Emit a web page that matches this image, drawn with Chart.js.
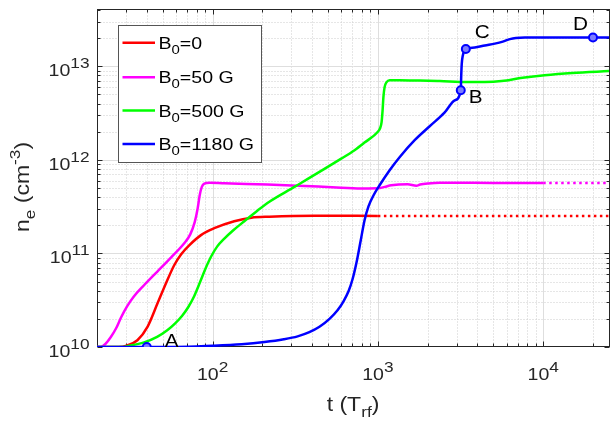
<!DOCTYPE html>
<html>
<head>
<meta charset="utf-8">
<script src="https://cdn.jsdelivr.net/npm/chart.js@4.4.1/dist/chart.umd.min.js"></script>
<style>
  html, body { margin: 0; padding: 0; background: #fff; }
  canvas { display: block; }
</style>
</head>
<body>
<canvas id="neChart" width="616" height="425"></canvas>
<script>
// t in units of T_rf, n_e in cm^-3
const redT = [20, 27, 30.5, 35.1, 40.4, 46.4, 52.2, 58.6, 64.6, 72.2, 85.1, 102.4, 135.3, 171.6, 221, 413, 1000];
const redN = [1e10, 1e10, 1.04e10, 1.18e10, 1.64e10, 2.91e10, 4.77e10, 7.48e10, 9.8e10, 1.22e11, 1.57e11, 1.86e11, 2.21e11, 2.41e11, 2.47e11, 2.53e11, 2.52e11];
const redDotT = [1000, 25000];
const redDotN = [2.52e11, 2.52e11];

const magT = [20, 21.07, 22.4, 24.2, 26.1, 28.0, 30.4, 33.5, 38.5, 46.2, 56.2, 67.4, 73.3, 78.0, 81.3, 83.6, 86.0, 89.1, 96, 117.7, 215, 327, 600, 830, 1000, 1100, 1205, 1514, 1710, 1800, 2010, 2370, 5000, 10000];
const magN = [1e10, 1e10, 1.07e10, 1.27e10, 1.585e10, 2.08e10, 2.72e10, 3.49e10, 4.57e10, 6.37e10, 9.1e10, 1.285e11, 1.6e11, 2.16e11, 3.04e11, 4.19e11, 5.11e11, 5.57e11, 5.7e11, 5.62e11, 5.45e11, 5.3e11, 5.05e11, 4.95e11, 4.97e11, 5.15e11, 5.36e11, 5.5e11, 5.3e11, 5.45e11, 5.6e11, 5.7e11, 5.67e11, 5.65e11];
const magDotT = [10000, 25000];
const magDotN = [5.65e11, 5.65e11];

const greenT = [20, 28, 31.3, 38.5, 46.2, 53.2, 59.4, 65.5, 71.2, 77.4, 84.2, 90.3, 98.2, 106.8, 117.8, 133.5, 155.7, 186.6, 220.6, 312.7, 600, 722.6, 830, 1000, 1031, 1053, 1068, 1080, 1098, 1129, 1178, 1353, 1780, 2367, 3500, 4440, 5600, 7500, 10200, 15000, 25000];
const greenN = [1e10, 1e10, 1.03e10, 1.12e10, 1.285e10, 1.51e10, 1.79e10, 2.16e10, 2.66e10, 3.49e10, 4.98e10, 6.78e10, 9.33e10, 1.19e11, 1.44e11, 1.77e11, 2.21e11, 2.86e11, 3.57e11, 5.14e11, 1.03e12, 1.27e12, 1.53e12, 2.0e12, 2.18e12, 2.53e12, 3.4e12, 4.68e12, 5.99e12, 6.78e12, 7.12e12, 7.12e12, 7.05e12, 6.95e12, 6.8e12, 6.8e12, 6.95e12, 7.55e12, 8.05e12, 8.5e12, 8.9e12];

const blueT = [20, 60, 100, 150, 206, 270, 327, 385, 443.2, 509.6, 570, 619.6, 664.3, 702.5, 743, 785.7, 830.6, 878.4, 941.7, 1024, 1178, 1353, 1669, 2057, 2537, 2916, 3172, 3193, 3215, 3262, 3330, 3404, 3855, 4433, 5097, 5698, 6284, 6831, 7746, 20000, 25000];
const blueN = [1e10, 1e10, 1.03e10, 1.07e10, 1.13e10, 1.21e10, 1.30e10, 1.44e10, 1.644e10, 2.0e10, 2.47e10, 3.08e10, 3.94e10, 5.3e10, 8.05e10, 1.35e11, 2.265e11, 3.2e11, 4.19e11, 5.36e11, 7.76e11, 1.069e12, 1.624e12, 2.29e12, 3.22e12, 4.33e12, 5.56e12, 8.05e12, 1.056e13, 1.30e13, 1.454e13, 1.53e13, 1.592e13, 1.673e13, 1.749e13, 1.837e13, 1.954e13, 2.012e13, 2.037e13, 2.037e13, 2.037e13];

const markerNames = ['A', 'B', 'C', 'D'];
const markerT = [40, 3172, 3404, 20000];
const markerN = [1e10, 5.56e12, 1.53e13, 2.037e13];

const seriesLabels = ['=0', '=50 G', '=500 G', '=1180 G'];
const seriesColors = ['#ff0000', '#ff00ff', '#00ff00', '#0000ff'];

const xTickExps = [2, 3, 4];
const yTickExps = [10, 11, 12, 13];

const FONT = '"Liberation Sans", Arial, Helvetica, sans-serif';
const SX = 1.15; // text in the figure runs a bit wide

function pts(xs, ys) {
  return xs.map((v, i) => ({ x: v, y: ys[i] }));
}

function drawRich(ctx, parts, x, y, align) {
  let w = 0;
  parts.forEach(p => {
    ctx.font = p.size + 'px ' + FONT;
    p.w = ctx.measureText(p.text).width;
    w += p.w;
  });
  let cx = align === 'center' ? -w / 2 : align === 'right' ? -w : 0;
  ctx.save();
  ctx.translate(x, y);
  ctx.scale(SX, 1);
  ctx.textAlign = 'left';
  ctx.textBaseline = 'alphabetic';
  parts.forEach(p => {
    ctx.font = p.size + 'px ' + FONT;
    ctx.fillText(p.text, cx, p.dy || 0);
    cx += p.w;
  });
  ctx.restore();
}

function logValues(min, max) {
  const out = [];
  for (let e = Math.floor(Math.log10(min)); e <= Math.ceil(Math.log10(max)); e++) {
    for (let m = 1; m <= 9; m++) {
      const v = m * Math.pow(10, e);
      if (v >= min * 0.999 && v <= max * 1.001) out.push({ v: v, major: m === 1 });
    }
  }
  return out;
}

// MATLAB-like axes: grid, box, inward ticks, labels and legend
const matlabAxes = {
  id: 'matlabAxes',
  beforeDatasetsDraw(chart) {
    const { ctx, chartArea: a, scales: { x, y } } = chart;
    const L = Math.round(a.left) + 0.5, R = Math.round(a.right) + 0.5;
    const T = Math.round(a.top) - 0.5, B = Math.round(a.bottom) - 0.5;
    const xs = logValues(x.min, x.max), ys = logValues(y.min, y.max);
    ctx.save();
    ctx.lineWidth = 1;

    // minor grid (dotted)
    ctx.strokeStyle = '#cccccc';
    ctx.setLineDash([1, 2]);
    xs.filter(t => !t.major).forEach(t => {
      const px = Math.round(x.getPixelForValue(t.v)) + 0.5;
      if (px <= L + 1 || px >= R - 1) return;
      ctx.beginPath(); ctx.moveTo(px, T); ctx.lineTo(px, B); ctx.stroke();
    });
    ys.filter(t => !t.major).forEach(t => {
      const py = Math.round(y.getPixelForValue(t.v)) + 0.5;
      if (py <= T + 1 || py >= B - 1) return;
      ctx.beginPath(); ctx.moveTo(L, py); ctx.lineTo(R, py); ctx.stroke();
    });

    // major grid
    ctx.setLineDash([]);
    ctx.strokeStyle = '#dedede';
    xs.filter(t => t.major).forEach(t => {
      const px = Math.round(x.getPixelForValue(t.v)) + 0.5;
      if (px <= L + 1 || px >= R - 1) return;
      ctx.beginPath(); ctx.moveTo(px, T); ctx.lineTo(px, B); ctx.stroke();
    });
    ys.filter(t => t.major).forEach(t => {
      const py = Math.round(y.getPixelForValue(t.v)) + 0.5;
      if (py <= T + 1 || py >= B - 1) return;
      ctx.beginPath(); ctx.moveTo(L, py); ctx.lineTo(R, py); ctx.stroke();
    });

    // box and ticks
    ctx.strokeStyle = '#262626';
    ctx.strokeRect(L, T, R - L, B - T);
    ctx.beginPath();
    xs.forEach(t => {
      const px = Math.round(x.getPixelForValue(t.v)) + 0.5;
      const len = t.major ? 5 : 3;
      ctx.moveTo(px, B); ctx.lineTo(px, B - len);
      ctx.moveTo(px, T); ctx.lineTo(px, T + len);
    });
    ys.forEach(t => {
      const py = Math.round(y.getPixelForValue(t.v)) + 0.5;
      const len = t.major ? 5 : 3;
      ctx.moveTo(L, py); ctx.lineTo(L + len, py);
      ctx.moveTo(R, py); ctx.lineTo(R - len, py);
    });
    ctx.stroke();
    ctx.restore();
  },
  afterDatasetsDraw(chart) {
    const { ctx, chartArea: a, scales: { x, y } } = chart;
    ctx.save();

    // tick labels
    ctx.fillStyle = '#262626';
    xTickExps.forEach(e => {
      const px = x.getPixelForValue(Math.pow(10, e));
      drawRich(ctx, [
        { text: '10', size: 17 },
        { text: String(e), size: 15, dy: -8 }
      ], px, 379.5, 'center');
    });
    yTickExps.forEach(e => {
      const py = y.getPixelForValue(Math.pow(10, e));
      drawRich(ctx, [
        { text: '10', size: 17 },
        { text: String(e), size: 15, dy: -8 }
      ], 89.5, py + 10, 'right');
    });

    // axis titles
    drawRich(ctx, [
      { text: 't (T', size: 20 },
      { text: 'rf', size: 15, dy: 6 },
      { text: ')', size: 20 }
    ], (a.left + a.right) / 2, 411, 'center');

    ctx.save();
    ctx.translate(28.5, 187);
    ctx.rotate(-Math.PI / 2);
    drawRich(ctx, [
      { text: 'n', size: 20 },
      { text: 'e', size: 15, dy: 6 },
      { text: ' (cm', size: 20 },
      { text: '-3', size: 15, dy: -9 },
      { text: ')', size: 20 }
    ], 0, 0, 'center');
    ctx.restore();

    // point labels A-D
    const labelOffsets = [[18, 0], [8, 13], [9, -11], [-20, -7]];
    ctx.fillStyle = '#000';
    markerNames.forEach((name, i) => {
      const px = x.getPixelForValue(markerT[i]);
      const py = y.getPixelForValue(markerN[i]);
      drawRich(ctx, [{ text: name, size: 18 }], px + labelOffsets[i][0], py + labelOffsets[i][1], 'left');
    });

    // legend
    const box = { left: 118.5, top: 25.5, width: 143, height: 137 };
    const rowY = [42.7, 77.3, 110.5, 144];
    ctx.fillStyle = '#fff';
    ctx.fillRect(box.left, box.top, box.width, box.height);
    ctx.strokeStyle = '#555';
    ctx.lineWidth = 1;
    ctx.strokeRect(box.left, box.top, box.width, box.height);
    seriesLabels.forEach((lab, i) => {
      ctx.strokeStyle = seriesColors[i];
      ctx.lineWidth = 2.5;
      ctx.beginPath();
      ctx.moveTo(122.5, rowY[i]);
      ctx.lineTo(155, rowY[i]);
      ctx.stroke();
      ctx.fillStyle = '#000';
      drawRich(ctx, [
        { text: 'B', size: 17 },
        { text: '0', size: 13, dy: 5 },
        { text: lab, size: 17 }
      ], 158.5, rowY[i] + 6, 'left');
    });
    ctx.restore();
  }
};

function lineSet(label, xs, ys, color, order, dash) {
  return {
    label: label,
    data: pts(xs, ys),
    borderColor: color,
    backgroundColor: color,
    borderWidth: 2.5,
    borderDash: dash || [],
    pointRadius: 0,
    cubicInterpolationMode: 'monotone',
    fill: false,
    order: order
  };
}

new Chart(document.getElementById('neChart'), {
  type: 'line',
  data: {
    datasets: [
      {
        label: 'markers',
        data: pts(markerT, markerN),
        showLine: false,
        pointStyle: 'circle',
        pointRadius: 4,
        borderWidth: 2,
        borderColor: '#0000ff',
        backgroundColor: '#7c7cff',
        order: 0
      },
      lineSet('B0' + seriesLabels[3], blueT, blueN, seriesColors[3], 1),
      lineSet('B0' + seriesLabels[2], greenT, greenN, seriesColors[2], 2),
      lineSet('B0' + seriesLabels[1], magT, magN, seriesColors[1], 3),
      lineSet('B0' + seriesLabels[1] + ' (cont.)', magDotT, magDotN, seriesColors[1], 3, [2.5, 3.5]),
      lineSet('B0' + seriesLabels[0], redT, redN, seriesColors[0], 4),
      lineSet('B0' + seriesLabels[0] + ' (cont.)', redDotT, redDotN, seriesColors[0], 4, [2.5, 3.5])
    ]
  },
  options: {
    responsive: false,
    animation: false,
    events: [],
    layout: { padding: { top: 10, right: 7, left: 0, bottom: 0 } },
    plugins: { legend: { display: false }, tooltip: { enabled: false } },
    scales: {
      x: {
        type: 'logarithmic',
        min: 20,
        max: 25000,
        grid: { display: false },
        border: { display: false },
        ticks: { display: false },
        afterFit: s => { s.height = 78; }
      },
      y: {
        type: 'logarithmic',
        min: 1e10,
        max: 4e13,
        grid: { display: false },
        border: { display: false },
        ticks: { display: false },
        afterFit: s => { s.width = 97; }
      }
    }
  },
  plugins: [matlabAxes]
});
</script>
</body>
</html>
